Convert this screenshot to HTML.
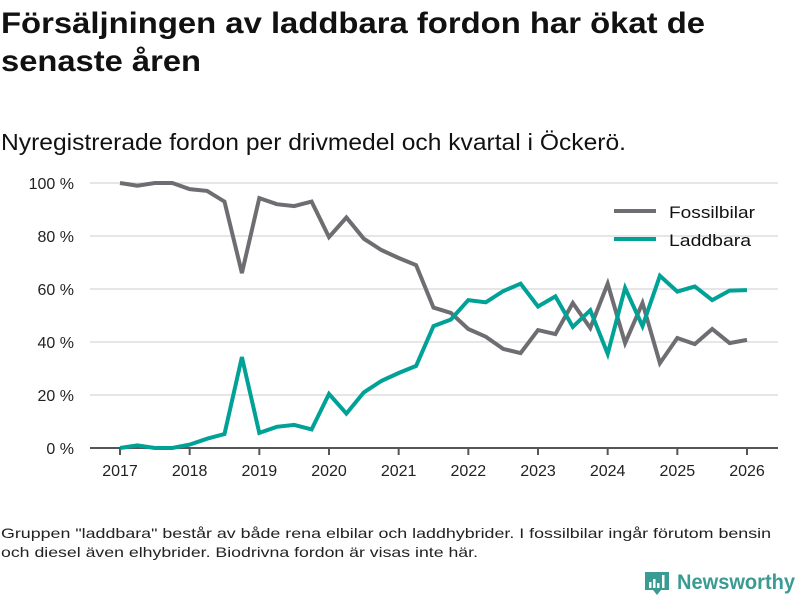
<!DOCTYPE html>
<html><head><meta charset="utf-8"><style>
body{margin:0;background:#fff;}
svg{display:block;font-family:"Liberation Sans",sans-serif;}
</style></head><body>
<svg width="800" height="600" viewBox="0 0 800 600">
<text x="1" y="33" font-size="30" font-weight="bold" fill="#111" textLength="704" lengthAdjust="spacingAndGlyphs">Försäljningen av laddbara fordon har ökat de</text>
<text x="1" y="71" font-size="30" font-weight="bold" fill="#111" textLength="200" lengthAdjust="spacingAndGlyphs">senaste åren</text>
<text x="1" y="150" font-size="23" fill="#111" textLength="625" lengthAdjust="spacingAndGlyphs">Nyregistrerade fordon per drivmedel och kvartal i Öckerö.</text>
<g id="grid"></g>
<g id="axis"></g>
<g id="lines"></g>
<g>
<line x1="614" y1="211" x2="656" y2="211" stroke="#6e6d72" stroke-width="4"/>
<text x="669" y="218" font-size="17" fill="#111" textLength="86" lengthAdjust="spacingAndGlyphs">Fossilbilar</text>
<line x1="614" y1="239" x2="656" y2="239" stroke="#00a196" stroke-width="4"/>
<text x="669" y="246" font-size="17" fill="#111" textLength="82" lengthAdjust="spacingAndGlyphs">Laddbara</text>
</g>
<text x="1" y="538" font-size="14" fill="#222" textLength="770" lengthAdjust="spacingAndGlyphs">Gruppen "laddbara" består av både rena elbilar och laddhybrider. I fossilbilar ingår förutom bensin</text>
<text x="1" y="557" font-size="14" fill="#222" textLength="477" lengthAdjust="spacingAndGlyphs">och diesel även elhybrider. Biodrivna fordon är visas inte här.</text>
<g>
<path d="M645 572h24v18h-8l-4 5-4-5h-8z" fill="#3a9b93"/>
<rect x="649" y="582" width="2.5" height="6" fill="#fff"/><rect x="653" y="579" width="2.5" height="9" fill="#fff"/><rect x="657" y="583" width="2.5" height="5" fill="#fff"/><rect x="662" y="575" width="2.5" height="13" fill="#fff"/>
<text x="677" y="589" font-size="21" font-weight="bold" fill="#3a9b93" textLength="118" lengthAdjust="spacingAndGlyphs">Newsworthy</text>
</g>
</svg>
<script>
const yearTicks=[2017,2018,2019,2020,2021,2022,2023,2024,2025,2026];
const yTicks=[0,20,40,60,80,100];
const startYear=2017;
const fossil=[100,99,100,100,97.7,97,93,66,94.3,92,91.3,93,79.6,87,79,74.7,71.7,69,53,51,44.9,42,37.4,35.8,44.5,43,54.7,45.3,62,39.6,54.7,32,41.5,39.2,44.9,39.6,40.8];
const laddbara=[0,1,0,0,1.3,3.5,5.3,34.3,5.7,8,8.7,7,20.4,13,21,25.3,28.3,31,46,48.5,55.8,55,59.2,62,53.4,57.2,45.7,52,35.5,60.4,46,65,59,61,55.8,59.4,59.6];
const NS="http://www.w3.org/2000/svg";
const X=t=>120+(t-2017)*(627/9);
const Y=v=>448-v*2.65;
const grid=document.getElementById('grid'),axis=document.getElementById('axis'),lines=document.getElementById('lines');
function mk(tag,attrs,parent){const e=document.createElementNS(NS,tag);for(const k in attrs)e.setAttribute(k,attrs[k]);parent.appendChild(e);return e;}
yTicks.forEach(v=>{
  if(v>0){const l=mk('line',{x1:90,x2:778,y1:Y(v),y2:Y(v),stroke:'#dedede','stroke-width':1.5},grid);
  
  }
  const t=mk('text',{x:74,y:Y(v)+6,'font-size':16,fill:'#222','text-anchor':'end'},axis);
  t.textContent=v+' %';
  
  
});
const base=mk('line',{x1:90,x2:778,y1:448,y2:448,stroke:'#555','stroke-width':2},axis);


yearTicks.forEach(yr=>{
  const tk=mk('line',{x1:X(yr),x2:X(yr),y1:448,y2:455,stroke:'#555','stroke-width':2},axis);
  
  
  const t=mk('text',{x:X(yr),y:476,'font-size':16,fill:'#222','text-anchor':'middle'},axis);
  t.textContent=yr;
  
  
});
function series(vals,color,name){
  const pts=vals.map((v,i)=>X(startYear+i*0.25).toFixed(1)+','+Y(v).toFixed(1)).join(' ');
  const p=mk('polyline',{points:pts,fill:'none',stroke:color,'stroke-width':4,'stroke-linejoin':'miter'},lines);
  
  
}
series(fossil,'#6e6d72','line-fossilbilar');
series(laddbara,'#00a196','line-laddbara');
</script>
</body></html>
